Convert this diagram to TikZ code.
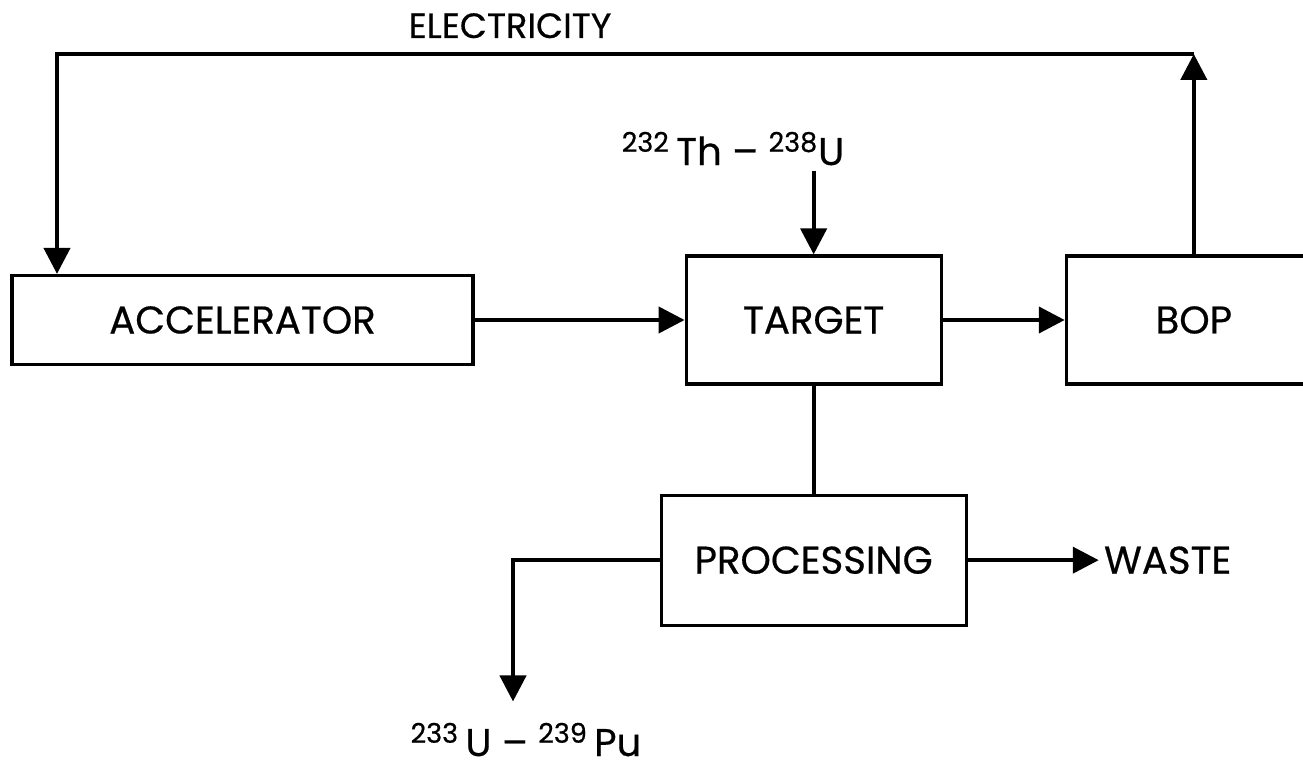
\documentclass[tikz,border=0pt]{standalone}
\usepackage{fontspec}
\setmainfont{Poppins}[FakeBold=0.5]
\usepackage{tikz}
\usetikzlibrary{arrows.meta, positioning, calc}
\tikzset{
  unit/.style={
    rectangle, draw=black, line width=1.8pt, fill=white,
    minimum height=2.56cm,
    align=center, font=\fontsize{22}{26}\selectfont
  },
  tag/.style={inner sep=0.1cm, font=\fontsize{22}{26}\selectfont},
  flow/.style={-{Triangle[length=0.52cm, width=0.52cm]}, line width=2.4pt, draw=black},
  link/.style={line width=2.4pt, draw=black}
}

\begin{document}
\begin{tikzpicture}[node distance=0.7cm]
  \useasboundingbox (0,0) rectangle (26.06,-15.36);
  \clip (0,0) rectangle (26.06,-15.36);
  \node[unit, minimum width=9.22cm, minimum height=1.78cm] (acc) at (4.85,-6.40) {ACCELERATOR};
  \node[unit, minimum width=5.1cm, right=4.2cm of acc] (target) {TARGET};
  \node[unit, minimum width=5.1cm, right=2.44cm of target] (bop) {BOP};
  \node[unit, minimum width=6.1cm, minimum height=2.6cm, below=2.16cm of target] (proc) {PROCESSING};
  \node[tag, right=2.62cm of proc] (waste) {WASTE};
  \node[tag, anchor=base] (thu) at (14.66,-3.30) {\textsuperscript{232}\,Th – \textsuperscript{238}U};
  \node[tag, anchor=base] (prod) at (10.52,-15.12) {\textsuperscript{233}\,U – \textsuperscript{239}\,Pu};
  \node[tag, font=\fontsize{20}{24}\selectfont, anchor=base] (elec) at (10.2,-0.76) {ELECTRICITY};
  \coordinate (corner) at (1.14,-1.08);

  \draw[flow] (acc) -- (target);
  \draw[flow] (target) -- (bop);
  \draw[flow] (thu.south -| target.north) -- (target.north);
  \draw[link] (target) -- (proc);
  \draw[flow] (proc) -- (waste);
  \draw[flow, shorten >=0.32cm] (proc.west) -| ([xshift=-0.26cm]prod.north);
  \draw[flow] (bop.north) -- (bop.north |- corner);
  \draw[flow] (bop.north |- corner) -- (corner) -- (corner |- acc.north);
\end{tikzpicture}
\end{document}
